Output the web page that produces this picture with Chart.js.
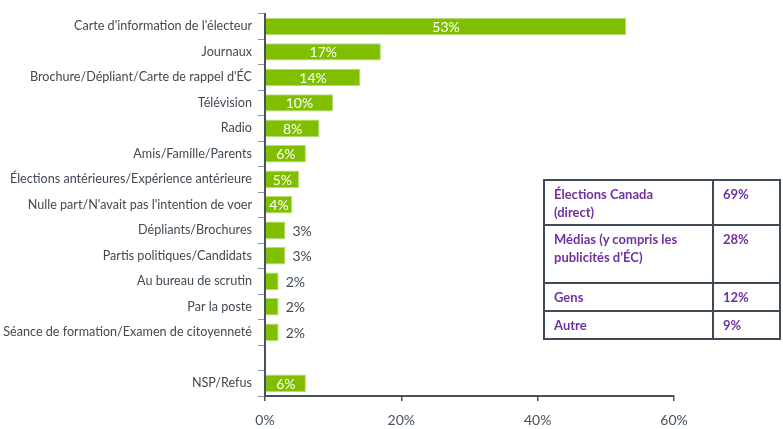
<!DOCTYPE html>
<html>
<head>
<meta charset="utf-8">
<script src="https://cdn.jsdelivr.net/npm/chart.js@4.4.1/dist/chart.umd.min.js"></script>
<style>
  html, body { margin: 0; padding: 0; background: #fff; }
  #wrap { position: relative; width: 783px; height: 429px; }
  #resume {
    position: absolute; left: 543px; top: 179px; width: 238px;
    border-collapse: collapse; font-family: Lato, "Open Sans", sans-serif;
    font-weight: bold; font-size: 13px; color: #7030a0; line-height: 18px;
  }
  #resume td { border: 2px solid #3f4c57; vertical-align: top; padding: 4px 8px 0 9px; }
  #resume td.val { width: 48px; }
</style>
</head>
<body>
<div id="wrap">
  <canvas id="graphique" width="783" height="429"></canvas>
  <table id="resume"></table>
</div>
<script>
// Sources d'information
const categories = [
  "Carte d'information de l'électeur",
  'Journaux',
  "Brochure/Dépliant/Carte de rappel d'ÉC",
  'Télévision',
  'Radio',
  'Amis/Famille/Parents',
  'Élections antérieures/Expérience antérieure',
  "Nulle part/N'avait pas l'intention de voer",
  'Dépliants/Brochures',
  'Partis politiques/Candidats',
  'Au bureau de scrutin',
  'Par la poste',
  'Séance de formation/Examen de citoyenneté',
  '',
  'NSP/Refus'
];
const valeurs = [53, 17, 14, 10, 8, 6, 5, 4, 3, 3, 2, 2, 2, null, 6];
const ticksX = [0, 20, 40, 60];

// Tableau résumé
const resumeLabels = ['Élections Canada<br>(direct)', 'Médias (y compris les<br>publicités d’ÉC)', 'Gens', 'Autre'];
const resumeValeurs = ['69%', '28%', '12%', '9%'];
const resumeHauteurs = [45, 58, 28, 28];

const tbl = document.getElementById('resume');
resumeLabels.forEach((lab, i) => {
  const tr = document.createElement('tr');
  tr.style.height = resumeHauteurs[i] + 'px';
  tr.innerHTML = '<td>' + lab + '</td><td class="val">' + resumeValeurs[i] + '</td>';
  tbl.appendChild(tr);
});

const vert = '#80bf00';
const gris = '#46525c';

// étiquettes de valeurs sur les barres
const etiquettes = {
  id: 'etiquettes',
  afterDatasetsDraw(chart) {
    const ctx = chart.ctx;
    const meta = chart.getDatasetMeta(0);
    ctx.save();
    ctx.font = '14px Lato, "Open Sans", sans-serif';
    ctx.textBaseline = 'middle';
    meta.data.forEach((bar, i) => {
      const v = valeurs[i];
      if (v === null) return;
      const txt = v + '%';
      if (v >= 4) {
        ctx.fillStyle = '#ffffff';
        ctx.textAlign = 'center';
        ctx.fillText(txt, (bar.x + bar.base) / 2, bar.y + 1);
      } else {
        ctx.fillStyle = '#404a53';
        ctx.textAlign = 'left';
        ctx.fillText(txt, bar.x + 7, bar.y + 1);
      }
    });
    ctx.restore();
  }
};

new Chart(document.getElementById('graphique'), {
  type: 'bar',
  data: {
    labels: categories,
    datasets: [{
      data: valeurs,
      backgroundColor: vert,
      borderColor: '#b5dc7a',
      borderWidth: 1,
      borderSkipped: 'left',
      categoryPercentage: 0.68,
      barPercentage: 1
    }]
  },
  options: {
    indexAxis: 'y',
    responsive: false,
    animation: false,
    layout: { padding: { top: 13, right: 109, left: 0, bottom: 0 } },
    plugins: { legend: { display: false }, tooltip: { enabled: false } },
    scales: {
      x: {
        min: 0, max: 60,
        afterBuildTicks(scale) { scale.ticks = ticksX.map(v => ({ value: v })); },
        afterFit(scale) { scale.height = 33; },
        ticks: {
          callback: v => v + '%',
          color: gris,
          font: { family: 'Lato, "Open Sans", sans-serif', size: 14 },
          padding: 11
        },
        grid: { drawOnChartArea: false, tickLength: 5, color: gris, lineWidth: 1.5 },
        border: { color: gris, width: 2 }
      },
      y: {
        afterFit(scale) { scale.width = 265; },
        ticks: {
          color: '#404a53',
          font: { family: 'Lato, "Open Sans", sans-serif', size: 12.6 },
          padding: 6,
          autoSkip: false
        },
        grid: { drawOnChartArea: false, offset: true, tickLength: 7, color: '#8a9399', lineWidth: 1 },
        border: { color: gris, width: 2 }
      }
    }
  },
  plugins: [etiquettes]
});
</script>
</body>
</html>
